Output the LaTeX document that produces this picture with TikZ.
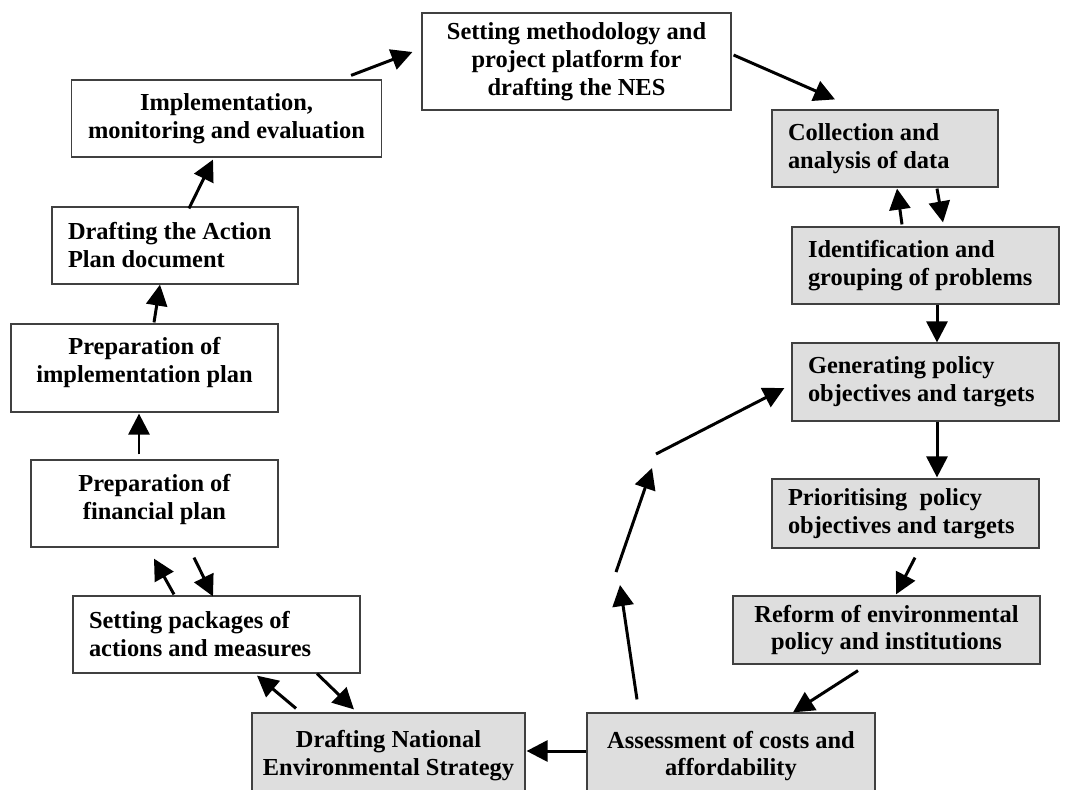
\documentclass[tikz,border=0pt]{standalone}
\usepackage{fontspec}
\setmainfont{Liberation Serif}
\usetikzlibrary{arrows.meta}

\begin{document}
\begin{tikzpicture}
  [x=0.02cm,y=-0.02cm,
   every node/.style={font=\fontsize{13.9pt}{15.9pt}\selectfont\bfseries},
   wbox/.style={rectangle, draw=black!75, line width=0.7pt, fill=white, align=center, inner sep=0pt},
   gbox/.style={wbox, fill=black!13},
   lbox/.style={align=flush left, inner xsep=0.32cm},
   txt/.style={align=center, inner sep=0pt, anchor=north},
   arr/.style={-{Triangle[length=0.42cm,width=0.42cm]}, line width=1.7pt}]
  \useasboundingbox (0,0) rectangle (1068,789);
  \clip (0,0) rectangle (1068,789);

  % left column (white)
  \node[wbox, minimum width=6.18cm, minimum height=1.94cm] (meth) at (576.5,61.5)
    {Setting methodology and\\project platform for\\drafting the NES};
  \node[wbox, minimum width=6.2cm, minimum height=1.54cm] (impl) at (226.5,118.5)
    {Implementation,\\monitoring and evaluation};
  \node[wbox, lbox, text width=4.28cm, minimum width=4.92cm, minimum height=1.54cm] (actplan) at (175,245.5)
    {Drafting the Action\\Plan document};
  \node[wbox, minimum width=5.34cm, minimum height=1.76cm] (implplan) at (144.5,368) {};
  \node[txt] (implplan-txt) at ([shift={(0,14)}]implplan.north) {Preparation of\\implementation plan};
  \node[wbox, minimum width=4.94cm, minimum height=1.74cm] (finplan) at (154.5,503.5) {};
  \node[txt] (finplan-txt) at ([shift={(0,15)}]finplan.north) {Preparation of\\financial plan};
  \node[wbox, lbox, text width=5.1cm, minimum width=5.74cm, minimum height=1.54cm] (packages) at (216.5,634.5)
    {Setting packages of\\actions and measures};

  % right column (grey)
  \node[gbox, lbox, text width=3.88cm, minimum width=4.52cm, minimum height=1.54cm] (coll) at (885,148.5)
    {Collection and\\analysis of data};
  \node[gbox, lbox, text width=4.7cm, minimum width=5.34cm, minimum height=1.54cm] (ident) at (925.5,265.5)
    {Identification and\\grouping of problems};
  \node[gbox, lbox, text width=4.7cm, minimum width=5.34cm, minimum height=1.56cm] (gen) at (925.5,382)
    {Generating policy\\objectives and targets};
  \node[gbox, lbox, text width=4.7cm, minimum width=5.34cm, minimum height=1.38cm] (prior) at (905.5,513.5)
    {Prioritising~~policy\\objectives and targets};
  \node[gbox, minimum width=6.14cm, minimum height=1.36cm] (reform) at (886.5,630)
    {Reform of environmental\\policy and institutions};
  \node[gbox, minimum width=5.76cm, minimum height=1.72cm] (assess) at (731,756)
    {Assessment of costs and\\affordability};
  \node[gbox, minimum width=5.46cm, minimum height=1.72cm] (nes) at (388.5,756)
    {Drafting National\\Environmental Strategy};

  \coordinate (c1) at (620,585);
  \coordinate (c2) at (616,572);
  \coordinate (c3) at (652,468);
  \coordinate (c4) at (656,454);

  % cycle
  \draw[arr] ([shift={(-31,-4)}]impl.north east) -- ([shift={(-9,-9.5)}]meth.west);
  \draw[arr] ([shift={(2,-6.5)}]meth.east) -- ([shift={(-50,-10)}]coll.north);
  \draw[arr] ([shift={(-23.5,-2)}]ident.north) -- ([shift={(12,1)}]coll.south);
  \draw[arr] ([shift={(52,1)}]coll.south) -- ([shift={(17.5,-4)}]ident.north);
  \draw[arr] ([shift={(11.5,0)}]ident.south) -- ([shift={(11.5,0)}]gen.north);
  \draw[arr] ([shift={(11.5,0)}]gen.south) -- ([shift={(31.5,-1)}]prior.north);
  \draw[arr] ([shift={(9.5,9)}]prior.south) -- ([shift={(9.5,-1)}]reform.north);
  \draw[arr] ([shift={(-28.5,6)}]reform.south) -- ([shift={(62,0)}]assess.north);
  \draw[arr] ([shift={(0,-5)}]assess.west) -- ([shift={(1,-5)}]nes.east);
  \draw[arr] ([shift={(-94,-13)}]assess.north) -- (c1);
  \draw[arr] (c2) -- (c3);
  \draw[arr] (c4) -- ([shift={(-7,6)}]gen.west);
  \draw[arr] ([shift={(-92.5,-4)}]nes.north) -- ([shift={(40.5,2)}]packages.south);
  \draw[arr] ([shift={(100.5,0)}]packages.south) -- ([shift={(-34.5,-3)}]nes.north);
  \draw[arr] ([shift={(-42.5,-1)}]packages.north) -- ([shift={(-0.5,11)}]finplan.south);
  \draw[arr] ([shift={(39.5,10)}]finplan.south) -- ([shift={(-3.5,1)}]packages.north);
  \draw[arr] ([shift={(-15.5,-5)}]finplan.north) -- ([shift={(-5.5,1)}]implplan.south);
  \draw[arr] ([shift={(9.5,-1)}]implplan.north) -- ([shift={(-15,0)}]actplan.south);
  \draw[arr] ([shift={(14,2)}]actplan.north) -- ([shift={(-13.5,2)}]impl.south);
\end{tikzpicture}
\end{document}
